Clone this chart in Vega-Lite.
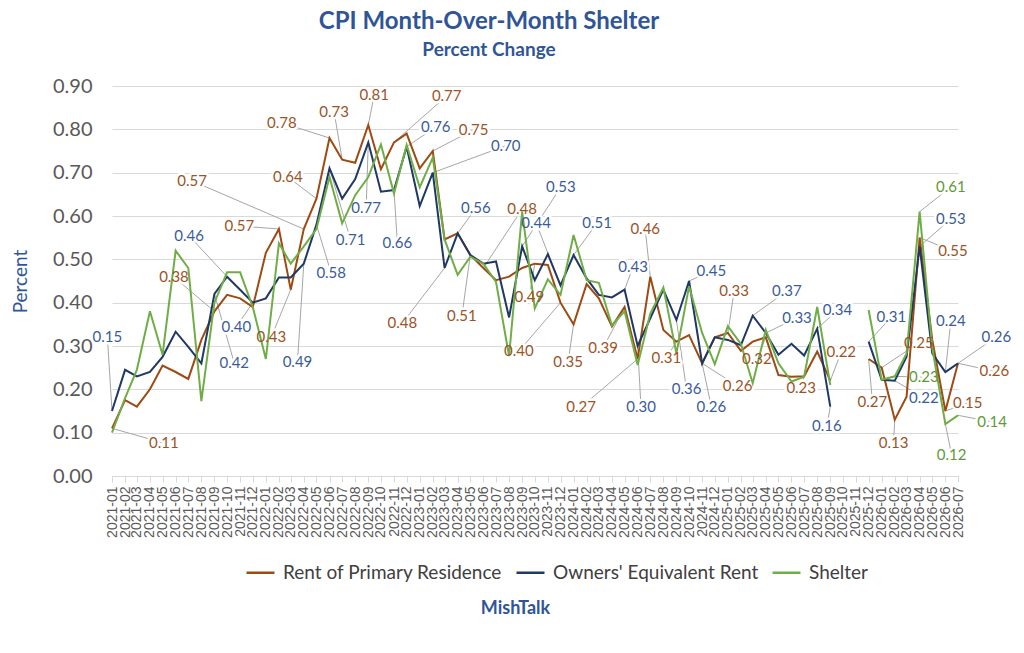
{
  "$schema": "https://vega.github.io/schema/vega-lite/v6.json",
  "description": "CPI Month-Over-Month Shelter, percent change",
  "width": 846,
  "height": 390,
  "autosize": {"type": "none"},
  "padding": {"left": 112, "top": 86, "right": 66, "bottom": 177},
  "background": "white",
  "config": {"font": "Lato", "view": {"stroke": null}},
  "title": {
    "text": "CPI Month-Over-Month Shelter",
    "subtitle": "Percent Change",
    "font": "Lato",
    "fontSize": 24,
    "fontWeight": "bold",
    "color": "#2F5597",
    "subtitleFont": "Lato",
    "subtitleFontSize": 19,
    "subtitleFontWeight": "bold",
    "subtitleColor": "#2F5597",
    "subtitlePadding": 7,
    "anchor": "middle",
    "dx": -46,
    "offset": 16
  },
  "datasets": {
    "cpi": [
      {"month": "2021-01", "rent": 0.11, "oer": 0.15, "shelter": 0.10},
      {"month": "2021-02", "rent": 0.175, "oer": 0.245, "shelter": 0.18},
      {"month": "2021-03", "rent": 0.16, "oer": 0.23, "shelter": 0.245},
      {"month": "2021-04", "rent": 0.20, "oer": 0.24, "shelter": 0.38},
      {"month": "2021-05", "rent": 0.255, "oer": 0.275, "shelter": 0.28},
      {"month": "2021-06", "rent": 0.24, "oer": 0.333, "shelter": 0.52},
      {"month": "2021-07", "rent": 0.224, "oer": 0.298, "shelter": 0.48},
      {"month": "2021-08", "rent": 0.314, "oer": 0.26, "shelter": 0.173},
      {"month": "2021-09", "rent": 0.38, "oer": 0.42, "shelter": 0.40},
      {"month": "2021-10", "rent": 0.418, "oer": 0.46, "shelter": 0.47},
      {"month": "2021-11", "rent": 0.41, "oer": 0.43, "shelter": 0.47},
      {"month": "2021-12", "rent": 0.39, "oer": 0.40, "shelter": 0.39},
      {"month": "2022-01", "rent": 0.515, "oer": 0.41, "shelter": 0.27},
      {"month": "2022-02", "rent": 0.57, "oer": 0.458, "shelter": 0.537},
      {"month": "2022-03", "rent": 0.43, "oer": 0.458, "shelter": 0.49},
      {"month": "2022-04", "rent": 0.57, "oer": 0.49, "shelter": 0.53},
      {"month": "2022-05", "rent": 0.64, "oer": 0.58, "shelter": 0.57},
      {"month": "2022-06", "rent": 0.78, "oer": 0.71, "shelter": 0.69},
      {"month": "2022-07", "rent": 0.73, "oer": 0.64, "shelter": 0.583},
      {"month": "2022-08", "rent": 0.723, "oer": 0.685, "shelter": 0.648},
      {"month": "2022-09", "rent": 0.81, "oer": 0.77, "shelter": 0.69},
      {"month": "2022-10", "rent": 0.708, "oer": 0.656, "shelter": 0.765},
      {"month": "2022-11", "rent": 0.77, "oer": 0.66, "shelter": 0.652},
      {"month": "2022-12", "rent": 0.79, "oer": 0.76, "shelter": 0.764},
      {"month": "2023-01", "rent": 0.71, "oer": 0.623, "shelter": 0.666},
      {"month": "2023-02", "rent": 0.75, "oer": 0.70, "shelter": 0.735},
      {"month": "2023-03", "rent": 0.546, "oer": 0.48, "shelter": 0.546},
      {"month": "2023-04", "rent": 0.56, "oer": 0.56, "shelter": 0.464},
      {"month": "2023-05", "rent": 0.51, "oer": 0.51, "shelter": 0.506},
      {"month": "2023-06", "rent": 0.48, "oer": 0.49, "shelter": 0.49},
      {"month": "2023-07", "rent": 0.452, "oer": 0.495, "shelter": 0.448},
      {"month": "2023-08", "rent": 0.46, "oer": 0.366, "shelter": 0.277},
      {"month": "2023-09", "rent": 0.48, "oer": 0.53, "shelter": 0.61},
      {"month": "2023-10", "rent": 0.49, "oer": 0.452, "shelter": 0.387},
      {"month": "2023-11", "rent": 0.487, "oer": 0.512, "shelter": 0.454},
      {"month": "2023-12", "rent": 0.40, "oer": 0.44, "shelter": 0.418},
      {"month": "2024-01", "rent": 0.35, "oer": 0.51, "shelter": 0.556},
      {"month": "2024-02", "rent": 0.443, "oer": 0.456, "shelter": 0.452},
      {"month": "2024-03", "rent": 0.41, "oer": 0.418, "shelter": 0.446},
      {"month": "2024-04", "rent": 0.345, "oer": 0.412, "shelter": 0.348},
      {"month": "2024-05", "rent": 0.39, "oer": 0.43, "shelter": 0.38},
      {"month": "2024-06", "rent": 0.27, "oer": 0.30, "shelter": 0.256},
      {"month": "2024-07", "rent": 0.46, "oer": 0.364, "shelter": 0.375},
      {"month": "2024-08", "rent": 0.337, "oer": 0.43, "shelter": 0.435},
      {"month": "2024-09", "rent": 0.31, "oer": 0.36, "shelter": 0.283},
      {"month": "2024-10", "rent": 0.325, "oer": 0.45, "shelter": 0.438},
      {"month": "2024-11", "rent": 0.26, "oer": 0.26, "shelter": 0.33},
      {"month": "2024-12", "rent": 0.32, "oer": 0.32, "shelter": 0.258},
      {"month": "2025-01", "rent": 0.33, "oer": 0.314, "shelter": 0.346},
      {"month": "2025-02", "rent": 0.289, "oer": 0.302, "shelter": 0.305},
      {"month": "2025-03", "rent": 0.31, "oer": 0.37, "shelter": 0.214},
      {"month": "2025-04", "rent": 0.32, "oer": 0.33, "shelter": 0.337},
      {"month": "2025-05", "rent": 0.233, "oer": 0.28, "shelter": 0.26},
      {"month": "2025-06", "rent": 0.229, "oer": 0.305, "shelter": 0.218},
      {"month": "2025-07", "rent": 0.23, "oer": 0.278, "shelter": 0.229},
      {"month": "2025-08", "rent": 0.287, "oer": 0.34, "shelter": 0.39},
      {"month": "2025-09", "rent": 0.22, "oer": 0.16, "shelter": 0.21},
      {"month": "2025-10", "rent": null, "oer": null, "shelter": null},
      {"month": "2025-11", "rent": null, "oer": null, "shelter": null},
      {"month": "2025-12", "rent": 0.27, "oer": 0.31, "shelter": 0.383},
      {"month": "2026-01", "rent": 0.25, "oer": 0.222, "shelter": 0.222},
      {"month": "2026-02", "rent": 0.13, "oer": 0.22, "shelter": 0.23},
      {"month": "2026-03", "rent": 0.183, "oer": 0.275, "shelter": 0.283},
      {"month": "2026-04", "rent": 0.55, "oer": 0.53, "shelter": 0.61},
      {"month": "2026-05", "rent": 0.314, "oer": 0.283, "shelter": 0.295},
      {"month": "2026-06", "rent": 0.15, "oer": 0.24, "shelter": 0.12},
      {"month": "2026-07", "rent": 0.26, "oer": 0.26, "shelter": 0.14}
    ],
    "labels": [
      {"month": "2021-01", "series": "oer", "value": 0.15, "at": "2020-12-21", "at_value": 0.321},
      {"month": "2021-01", "series": "rent", "value": 0.11, "at": "2021-05-04", "at_value": 0.076},
      {"month": "2021-09", "series": "rent", "value": 0.38, "at": "2021-05-28", "at_value": 0.459},
      {"month": "2021-10", "series": "oer", "value": 0.46, "at": "2021-07-03", "at_value": 0.554},
      {"month": "2021-09", "series": "oer", "value": 0.42, "at": "2021-10-18", "at_value": 0.261},
      {"month": "2021-12", "series": "oer", "value": 0.40, "at": "2021-10-23", "at_value": 0.344},
      {"month": "2022-04", "series": "rent", "value": 0.57, "at": "2021-07-10", "at_value": 0.681},
      {"month": "2022-02", "series": "rent", "value": 0.57, "at": "2021-10-30", "at_value": 0.577},
      {"month": "2022-03", "series": "rent", "value": 0.43, "at": "2022-01-14", "at_value": 0.321},
      {"month": "2022-04", "series": "oer", "value": 0.49, "at": "2022-03-17", "at_value": 0.263},
      {"month": "2022-05", "series": "oer", "value": 0.58, "at": "2022-06-05", "at_value": 0.468},
      {"month": "2022-05", "series": "rent", "value": 0.64, "at": "2022-02-22", "at_value": 0.69},
      {"month": "2022-06", "series": "rent", "value": 0.78, "at": "2022-02-08", "at_value": 0.815},
      {"month": "2022-07", "series": "rent", "value": 0.73, "at": "2022-06-12", "at_value": 0.84},
      {"month": "2022-09", "series": "rent", "value": 0.81, "at": "2022-09-15", "at_value": 0.879},
      {"month": "2022-09", "series": "oer", "value": 0.77, "at": "2022-08-27", "at_value": 0.618},
      {"month": "2022-06", "series": "oer", "value": 0.71, "at": "2022-07-21", "at_value": 0.545},
      {"month": "2022-11", "series": "oer", "value": 0.66, "at": "2022-11-09", "at_value": 0.538},
      {"month": "2022-11", "series": "rent", "value": 0.77, "at": "2023-03-06", "at_value": 0.877},
      {"month": "2022-12", "series": "oer", "value": 0.76, "at": "2023-02-08", "at_value": 0.805},
      {"month": "2023-02", "series": "rent", "value": 0.75, "at": "2023-05-09", "at_value": 0.799},
      {"month": "2023-02", "series": "oer", "value": 0.70, "at": "2023-07-24", "at_value": 0.762},
      {"month": "2023-03", "series": "rent", "value": 0.48, "at": "2022-11-21", "at_value": 0.353},
      {"month": "2023-04", "series": "oer", "value": 0.56, "at": "2023-05-14", "at_value": 0.618},
      {"month": "2023-05", "series": "rent", "value": 0.51, "at": "2023-04-11", "at_value": 0.369},
      {"month": "2023-06", "series": "rent", "value": 0.48, "at": "2023-09-01", "at_value": 0.616},
      {"month": "2023-09", "series": "oer", "value": 0.53, "at": "2023-12-02", "at_value": 0.667},
      {"month": "2023-12", "series": "oer", "value": 0.44, "at": "2023-10-04", "at_value": 0.584},
      {"month": "2023-10", "series": "rent", "value": 0.49, "at": "2023-09-18", "at_value": 0.413},
      {"month": "2023-12", "series": "rent", "value": 0.40, "at": "2023-08-24", "at_value": 0.288},
      {"month": "2024-01", "series": "rent", "value": 0.35, "at": "2023-12-19", "at_value": 0.263},
      {"month": "2024-01", "series": "oer", "value": 0.51, "at": "2024-02-26", "at_value": 0.584},
      {"month": "2024-06", "series": "rent", "value": 0.27, "at": "2024-01-19", "at_value": 0.159},
      {"month": "2024-05", "series": "rent", "value": 0.39, "at": "2024-03-11", "at_value": 0.295},
      {"month": "2024-05", "series": "oer", "value": 0.43, "at": "2024-05-21", "at_value": 0.482},
      {"month": "2024-06", "series": "oer", "value": 0.30, "at": "2024-06-09", "at_value": 0.159},
      {"month": "2024-07", "series": "rent", "value": 0.46, "at": "2024-06-19", "at_value": 0.57},
      {"month": "2024-09", "series": "rent", "value": 0.31, "at": "2024-08-08", "at_value": 0.272},
      {"month": "2024-09", "series": "oer", "value": 0.36, "at": "2024-09-25", "at_value": 0.20},
      {"month": "2024-10", "series": "oer", "value": 0.45, "at": "2024-11-23", "at_value": 0.473},
      {"month": "2024-11", "series": "rent", "value": 0.26, "at": "2025-01-24", "at_value": 0.208},
      {"month": "2024-11", "series": "oer", "value": 0.26, "at": "2024-11-23", "at_value": 0.159},
      {"month": "2025-01", "series": "rent", "value": 0.33, "at": "2025-01-16", "at_value": 0.427},
      {"month": "2025-03", "series": "oer", "value": 0.37, "at": "2025-05-21", "at_value": 0.427},
      {"month": "2025-04", "series": "rent", "value": 0.32, "at": "2025-03-11", "at_value": 0.27},
      {"month": "2025-04", "series": "oer", "value": 0.33, "at": "2025-06-14", "at_value": 0.365},
      {"month": "2025-07", "series": "rent", "value": 0.23, "at": "2025-06-24", "at_value": 0.203},
      {"month": "2025-08", "series": "oer", "value": 0.34, "at": "2025-09-18", "at_value": 0.383},
      {"month": "2025-09", "series": "rent", "value": 0.22, "at": "2025-09-27", "at_value": 0.286},
      {"month": "2025-09", "series": "oer", "value": 0.16, "at": "2025-08-24", "at_value": 0.115},
      {"month": "2025-12", "series": "oer", "value": 0.31, "at": "2026-01-24", "at_value": 0.367},
      {"month": "2025-12", "series": "rent", "value": 0.27, "at": "2025-12-10", "at_value": 0.171},
      {"month": "2026-01", "series": "rent", "value": 0.25, "at": "2026-03-30", "at_value": 0.307},
      {"month": "2026-02", "series": "shelter", "value": 0.23, "at": "2026-04-11", "at_value": 0.228},
      {"month": "2026-02", "series": "oer", "value": 0.22, "at": "2026-04-11", "at_value": 0.18},
      {"month": "2026-02", "series": "rent", "value": 0.13, "at": "2026-01-29", "at_value": 0.076},
      {"month": "2026-04", "series": "shelter", "value": 0.61, "at": "2026-06-14", "at_value": 0.667},
      {"month": "2026-04", "series": "oer", "value": 0.53, "at": "2026-06-14", "at_value": 0.593},
      {"month": "2026-04", "series": "rent", "value": 0.55, "at": "2026-06-19", "at_value": 0.519},
      {"month": "2026-06", "series": "oer", "value": 0.24, "at": "2026-06-14", "at_value": 0.358},
      {"month": "2026-07", "series": "oer", "value": 0.26, "at": "2026-09-30", "at_value": 0.321},
      {"month": "2026-07", "series": "rent", "value": 0.26, "at": "2026-09-25", "at_value": 0.242},
      {"month": "2026-06", "series": "rent", "value": 0.15, "at": "2026-07-24", "at_value": 0.168},
      {"month": "2026-07", "series": "shelter", "value": 0.14, "at": "2026-09-20", "at_value": 0.125},
      {"month": "2026-06", "series": "shelter", "value": 0.12, "at": "2026-06-16", "at_value": 0.048}
    ]
  },
  "layer": [
    {
      "data": {"name": "labels"},
      "mark": {"type": "rule", "color": "#A6A6A6", "strokeWidth": 1},
      "encoding": {
        "x": {
          "field": "month", "type": "temporal",
          "axis": {"title": "MishTalk", "labelExpr": "utcFormat(datum.value, '%Y-%m')", "tickCount": {"interval": "month", "step": 1}}
        },
        "y": {"field": "value", "type": "quantitative", "axis": {"title": "Percent", "format": ".2f"}},
        "x2": {"field": "at"},
        "y2": {"field": "at_value"}
      }
    },
    {
      "data": {"name": "labels"},
      "mark": {"type": "text", "font": "Lato", "fontSize": 15, "fill": "white", "stroke": "white", "strokeWidth": 5, "strokeJoin": "round"},
      "encoding": {
        "x": {
          "field": "at", "type": "temporal",
          "axis": {"title": "MishTalk", "labelExpr": "utcFormat(datum.value, '%Y-%m')", "tickCount": {"interval": "month", "step": 1}}
        },
        "y": {"field": "at_value", "type": "quantitative", "axis": {"title": "Percent", "format": ".2f"}},
        "text": {"field": "value", "type": "quantitative", "format": ".2f"}
      }
    },
    {
      "data": {"name": "cpi"},
      "transform": [
        {"fold": ["rent", "oer", "shelter"], "as": ["series", "value"]}
      ],
      "mark": {"type": "line", "strokeWidth": 2, "invalid": "break-paths-show-domains"},
      "encoding": {
        "x": {
          "field": "month",
          "type": "temporal",
          "scale": {
            "type": "utc",
            "domain": [
              {"year": 2021, "month": 1, "date": 1, "utc": true},
              {"year": 2026, "month": 7, "date": 1, "utc": true}
            ],
            "nice": false
          },
          "axis": {
            "title": "MishTalk",
            "titleFont": "Lato",
            "titleFontSize": 18,
            "titleFontWeight": "bold",
            "titleColor": "#2F5597",
            "titleX": 403,
            "titleY": 132,
            "titleAlign": "center",
            "titleBaseline": "middle",
            "tickCount": {"interval": "month", "step": 1},
            "labelExpr": "utcFormat(datum.value, '%Y-%m')",
            "labelAngle": -90,
            "labelAlign": "right",
            "labelBaseline": "middle",
            "labelFont": "Liberation Sans",
            "labelFontSize": 14,
            "labelColor": "#595959",
            "labelPadding": 4,
            "labelOverlap": false,
            "labelBound": false,
            "labelFlush": false,
            "grid": false,
            "domainColor": "#D9D9D9",
            "tickColor": "#D9D9D9",
            "tickSize": 6
          }
        },
        "y": {
          "field": "value",
          "type": "quantitative",
          "scale": {"domain": [0, 0.9], "nice": false},
          "axis": {
            "title": "Percent",
            "titleFont": "Lato",
            "titleFontSize": 19,
            "titleFontWeight": "normal",
            "titleColor": "#2F5597",
            "titlePadding": 22,
            "values": [0, 0.1, 0.2, 0.3, 0.4, 0.5, 0.6, 0.7, 0.8, 0.9],
            "format": ".2f",
            "labelFont": "Lato",
            "labelFontSize": 20,
            "labelColor": "#595959",
            "labelPadding": 20,
            "ticks": false,
            "domain": false,
            "gridColor": "#D9D9D9"
          }
        },
        "color": {
          "field": "series",
          "type": "nominal",
          "scale": {
            "domain": ["rent", "oer", "shelter"],
            "range": ["#9E4A14", "#1F3864", "#70AD47"]
          },
          "legend": {
            "orient": "none",
            "legendX": 133,
            "legendY": 471,
            "direction": "horizontal",
            "columns": 3,
            "title": null,
            "labelFont": "Lato",
            "labelFontSize": 19,
            "labelColor": "#404040",
            "labelLimit": 0,
            "labelOffset": 7,
            "symbolType": "stroke",
            "symbolStrokeWidth": 2.5,
            "symbolSize": 784,
            "columnPadding": 8,
            "labelExpr": "datum.label == 'rent' ? 'Rent of Primary Residence' : datum.label == 'oer' ? \"Owners' Equivalent Rent\" : 'Shelter'"
          }
        }
      }
    },
    {
      "data": {"name": "labels"},
      "mark": {"type": "text", "font": "Lato", "fontSize": 15},
      "encoding": {
        "x": {
          "field": "at", "type": "temporal",
          "axis": {"title": "MishTalk", "labelExpr": "utcFormat(datum.value, '%Y-%m')", "tickCount": {"interval": "month", "step": 1}}
        },
        "y": {"field": "at_value", "type": "quantitative", "axis": {"title": "Percent", "format": ".2f"}},
        "text": {"field": "value", "type": "quantitative", "format": ".2f"},
        "fill": {
          "field": "series",
          "type": "nominal",
          "scale": {
            "domain": ["rent", "oer", "shelter"],
            "range": ["#9C5326", "#3A5C9C", "#5E9A37"]
          },
          "legend": null
        }
      }
    }
  ]
}
